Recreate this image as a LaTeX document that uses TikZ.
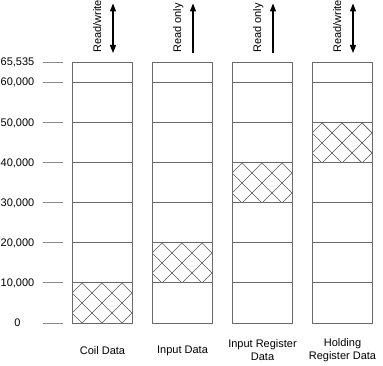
\documentclass[tikz,border=0pt]{standalone}
\usepackage{fontspec}
\setmainfont{Liberation Sans}
\usetikzlibrary{arrows.meta}
\definecolor{boxgray}{HTML}{6A6A6A}
\definecolor{tickgray}{HTML}{8A8A8A}
\definecolor{hatchgray}{HTML}{555555}
\newcommand{\hatchregion}[4]{%
  \begin{scope}
    \clip (#1,#2) rectangle (#3,#4);
    \foreach \k in {-20,...,40} {
      \draw[hatchline] ({-1+20*\k},0) -- ({399+20*\k},400);
      \draw[hatchline] ({5+20*\k},0) -- ({-395+20*\k},400);
    }
  \end{scope}}
\begin{document}
\begin{tikzpicture}[x=1pt,y=-1pt,
  font=\fontsize{11}{12.5}\selectfont,
  boxline/.style={draw=boxgray,line width=1pt},
  tickline/.style={draw=tickgray,line width=1pt},
  hatchline/.style={draw=hatchgray,line width=0.7pt},
  ylab/.style={inner sep=0pt,anchor=center},
  rwlab/.style={rotate=90,anchor=base west,inner sep=0pt},
  collab/.style={align=center,inner sep=0pt,anchor=center},
  accarrow/.style={line width=1.3pt,-{Triangle[width=6pt,length=8pt]}},
  accboth/.style={line width=1.3pt,{Triangle[width=6pt,length=8pt]}-{Triangle[width=6pt,length=8pt]}}]
\useasboundingbox (0,0) rectangle (383,366);

% y axis labels and ticks
\foreach \yy/\lab/\nm in {62.5/{65,535}/t6, 82.5/{60,000}/t5, 123/{50,000}/t4, 163/{40,000}/t3,
                          203/{30,000}/t2, 243/{20,000}/t1, 283/{10,000}/t0, 323/{0}/tz} {
  \node[ylab] (l\nm) at (17.5,\yy) {\lab};
  \coordinate (a\nm) at (42.5,\yy);
  \coordinate (b\nm) at (62.5,\yy);
  \draw[tickline] (a\nm) -- (b\nm);
}

% hatched regions
\hatchregion{72.5}{283}{132.5}{323}
\hatchregion{152.5}{243}{212.5}{283}
\hatchregion{232.5}{163}{292.5}{203}
\hatchregion{312.5}{123}{372.5}{163}

% columns
\foreach \xx/\nm in {72.5/c1,152.5/c2,232.5/c3,312.5/c4} {
  \draw[boxline] (\xx,62.5) rectangle ({\xx+60},323);
  \foreach \yy in {82.5,123,163,203,243,283} {
    \draw[boxline] (\xx,\yy) -- ({\xx+60},\yy);
  }
}

% access labels and arrows
\node[rwlab] (r1) at (101,53) {Read/write};
\node[rwlab] (r2) at (181,53) {Read only};
\node[rwlab] (r3) at (261,53) {Read only};
\node[rwlab] (r4) at (341,53) {Read/write};

\coordinate (p1a) at (113,3.5);  \coordinate (p1b) at (113,53);
\coordinate (p2a) at (193,3.5);  \coordinate (p2b) at (193,53);
\coordinate (p3a) at (273,3.5);  \coordinate (p3b) at (273,53);
\coordinate (p4a) at (353,3.5);  \coordinate (p4b) at (353,53);
\draw[accboth] (p1b) -- (p1a);
\draw[accarrow] (p2b) -- (p2a);
\draw[accarrow] (p3b) -- (p3a);
\draw[accboth] (p4b) -- (p4a);

% column labels
\node[collab] (n1) at (102.5,350.5) {Coil Data};
\node[collab] (n2) at (182.5,350.5) {Input Data};
\node[collab] (n3) at (262.5,350) {Input Register\\Data};
\node[collab] (n4) at (342.5,350) {Holding\\Register Data};
\end{tikzpicture}
\end{document}
